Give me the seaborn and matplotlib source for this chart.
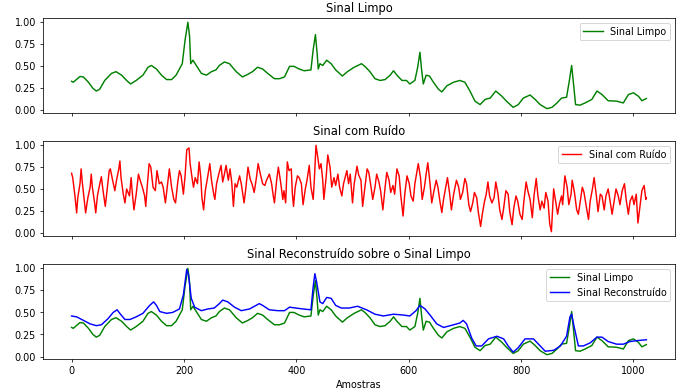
import matplotlib
matplotlib.use("Agg")
import matplotlib.pyplot as plt
from matplotlib.ticker import MultipleLocator, FormatStrFormatter
import seaborn as sns
import pandas as pd

# Clean signal (sample index, value)
clean_x = [0, 3, 15, 21, 30, 38, 44, 50, 59, 71, 79, 89, 98, 105, 115, 127, 136, 142, 151, 160,
           169, 178, 186, 197, 202, 207, 210, 212, 216, 222, 231, 240, 249, 257, 263, 272, 281, 293,
           304, 314, 322, 331, 340, 349, 361, 370, 379, 388, 396, 405, 414, 426, 430, 434, 437, 439,
           442, 447, 454, 462, 470, 482, 491, 503, 516, 522, 531, 540, 549, 558, 567, 573, 579, 588,
           596, 602, 611, 616, 620, 623, 626, 631, 637, 644, 653, 659, 668, 680, 691, 700, 709, 718,
           727, 736, 745, 755, 766, 774, 786, 795, 804, 816, 825, 834, 846, 855, 864, 872, 881, 886,
           890, 894, 897, 905, 914, 926, 935, 944, 955, 970, 982, 991, 1000, 1009, 1015, 1023]
clean_y = [0.33, 0.32, 0.385, 0.38, 0.32, 0.25, 0.22, 0.24, 0.34, 0.42, 0.44, 0.40, 0.34, 0.30, 0.34,
           0.40, 0.49, 0.51, 0.47, 0.40, 0.35, 0.35, 0.40, 0.53, 0.80, 1.00, 0.84, 0.53, 0.57, 0.51,
           0.42, 0.40, 0.44, 0.46, 0.51, 0.55, 0.53, 0.44, 0.38, 0.41, 0.44, 0.49, 0.47, 0.42, 0.36,
           0.36, 0.38, 0.50, 0.50, 0.47, 0.45, 0.46, 0.69, 0.86, 0.65, 0.47, 0.53, 0.51, 0.57, 0.53,
           0.46, 0.39, 0.44, 0.49, 0.53, 0.50, 0.44, 0.36, 0.34, 0.35, 0.40, 0.45, 0.40, 0.34, 0.34,
           0.30, 0.34, 0.49, 0.66, 0.46, 0.30, 0.40, 0.39, 0.32, 0.24, 0.21, 0.28, 0.32, 0.34, 0.32,
           0.22, 0.105, 0.066, 0.125, 0.14, 0.22, 0.16, 0.105, 0.035, 0.066, 0.14, 0.175, 0.125, 0.066,
           0.02, 0.035, 0.085, 0.14, 0.15, 0.34, 0.51, 0.26, 0.066, 0.06, 0.085, 0.125, 0.22, 0.18,
           0.11, 0.105, 0.085, 0.18, 0.20, 0.16, 0.11, 0.135]

# Noisy signal (sample index, value)
noisy_x = [0, 2, 6, 9, 11, 15, 17, 19, 22, 25, 29, 33, 35, 37, 41, 43, 46, 49, 53, 56, 60, 63, 67, 69,
           73, 77, 80, 84, 86, 88, 92, 95, 98, 103, 106, 108, 111, 115, 119, 122, 126, 130, 132, 135,
           138, 141, 145, 149, 152, 156, 160, 163, 167, 171, 174, 178, 182, 185, 189, 192, 195, 199,
           202, 205, 209, 211, 215, 217, 220, 224, 227, 230, 232, 235, 238, 242, 246, 249, 253, 255,
           258, 262, 266, 269, 272, 275, 279, 282, 285, 288, 291, 294, 299, 302, 307, 310, 314, 318,
           321, 325, 329, 332, 336, 340, 344, 347, 352, 356, 359, 361, 365, 368, 372, 376, 378, 381,
           384, 387, 391, 393, 395, 398, 402, 405, 409, 412, 416, 419, 423, 426, 430, 432, 435, 438,
           441, 444, 447, 449, 453, 456, 460, 463, 467, 470, 474, 477, 481, 484, 490, 493, 496, 500,
           503, 508, 511, 515, 518, 522, 526, 529, 533, 536, 540, 543, 547, 550, 554, 558, 561, 565,
           568, 572, 575, 579, 583, 586, 590, 593, 597, 601, 604, 608, 611, 615, 617, 621, 624, 628,
           631, 634, 638, 641, 645, 649, 652, 656, 659, 662, 666, 669, 673, 676, 680, 685, 689, 692,
           696, 700, 703, 707, 710, 714, 717, 721, 724, 728, 731, 735, 738, 741, 744, 748, 752, 755,
           759, 762, 766, 769, 773, 777, 780, 784, 787, 791, 794, 798, 802, 805, 809, 812, 816, 820,
           823, 827, 830, 834, 837, 841, 844, 848, 851, 854, 858, 862, 865, 868, 872, 874, 878, 882,
           885, 889, 891, 895, 899, 902, 905, 909, 912, 916, 920, 923, 927, 930, 934, 937, 941, 944,
           948, 951, 955, 958, 962, 966, 969, 973, 976, 980, 984, 987, 991, 994, 998, 1001, 1005,
           1008, 1012, 1015, 1019, 1022, 1023]
noisy_y = [0.68, 0.63, 0.42, 0.225, 0.40, 0.56, 0.73, 0.58, 0.40, 0.225, 0.40, 0.52, 0.67, 0.52, 0.34,
           0.225, 0.42, 0.52, 0.64, 0.48, 0.30, 0.48, 0.71, 0.73, 0.60, 0.48, 0.60, 0.73, 0.82, 0.63,
           0.44, 0.34, 0.50, 0.42, 0.63, 0.46, 0.26, 0.44, 0.67, 0.60, 0.52, 0.42, 0.30, 0.56, 0.79,
           0.75, 0.52, 0.48, 0.71, 0.56, 0.58, 0.52, 0.34, 0.56, 0.73, 0.52, 0.38, 0.34, 0.58, 0.71,
           0.65, 0.44, 0.65, 0.95, 0.97, 0.79, 0.60, 0.52, 0.63, 0.56, 0.81, 0.63, 0.40, 0.26, 0.48,
           0.63, 0.79, 0.60, 0.44, 0.38, 0.56, 0.67, 0.77, 0.58, 0.67, 0.77, 0.60, 0.73, 0.58, 0.30,
           0.56, 0.52, 0.65, 0.56, 0.34, 0.50, 0.75, 0.61, 0.56, 0.46, 0.63, 0.79, 0.67, 0.56, 0.54,
           0.60, 0.67, 0.56, 0.42, 0.34, 0.60, 0.75, 0.58, 0.38, 0.48, 0.34, 0.81, 0.71, 0.73, 0.44,
           0.30, 0.52, 0.65, 0.63, 0.56, 0.32, 0.50, 0.60, 0.77, 0.52, 0.38, 0.60, 1.00, 0.87, 0.73,
           0.79, 0.60, 0.38, 0.63, 0.89, 0.75, 0.52, 0.63, 0.54, 0.67, 0.52, 0.42, 0.56, 0.71, 0.56,
           0.67, 0.34, 0.56, 0.76, 0.66, 0.60, 0.30, 0.52, 0.73, 0.69, 0.52, 0.38, 0.52, 0.67, 0.58,
           0.48, 0.26, 0.52, 0.69, 0.60, 0.46, 0.54, 0.44, 0.73, 0.65, 0.42, 0.19, 0.44, 0.65, 0.56,
           0.42, 0.36, 0.56, 0.71, 0.79, 0.63, 0.38, 0.52, 0.67, 0.80, 0.56, 0.34, 0.48, 0.60, 0.52,
           0.34, 0.23, 0.38, 0.52, 0.63, 0.44, 0.26, 0.44, 0.60, 0.52, 0.38, 0.46, 0.62, 0.56, 0.32,
           0.24, 0.34, 0.46, 0.40, 0.23, 0.07, 0.21, 0.36, 0.44, 0.58, 0.42, 0.34, 0.40, 0.58, 0.44,
           0.26, 0.15, 0.28, 0.48, 0.44, 0.23, 0.09, 0.28, 0.42, 0.36, 0.21, 0.15, 0.36, 0.58, 0.48,
           0.38, 0.17, 0.42, 0.62, 0.42, 0.26, 0.36, 0.28, 0.46, 0.36, 0.10, 0.01, 0.50, 0.34, 0.21,
           0.32, 0.42, 0.32, 0.65, 0.52, 0.32, 0.44, 0.60, 0.46, 0.26, 0.21, 0.34, 0.52, 0.46, 0.30,
           0.15, 0.36, 0.50, 0.63, 0.42, 0.24, 0.44, 0.42, 0.26, 0.42, 0.50, 0.38, 0.21, 0.38, 0.50,
           0.42, 0.32, 0.48, 0.56, 0.38, 0.21, 0.36, 0.42, 0.32, 0.44, 0.11, 0.32, 0.48, 0.54, 0.38,
           0.40]

# Reconstructed signal (sample index, value)
recon_x = [0, 9, 21, 33, 44, 53, 65, 74, 81, 87, 95, 104, 115, 127, 139, 146, 151, 157, 169, 180, 192,
           199, 205, 208, 213, 219, 231, 243, 254, 263, 269, 278, 290, 302, 317, 334, 340, 352, 367,
           379, 388, 399, 411, 426, 430, 433, 436, 442, 447, 454, 462, 470, 480, 494, 509, 525, 540,
           555, 573, 591, 602, 613, 620, 629, 638, 650, 662, 680, 691, 697, 703, 712, 720, 730, 742,
           757, 769, 777, 786, 795, 807, 822, 831, 843, 858, 870, 881, 887, 890, 894, 902, 911, 923,
           935, 944, 955, 970, 982, 994, 1006, 1023]
recon_y = [0.46, 0.45, 0.41, 0.37, 0.35, 0.36, 0.43, 0.50, 0.53, 0.48, 0.42, 0.42, 0.45, 0.49, 0.58,
           0.62, 0.58, 0.51, 0.49, 0.50, 0.54, 0.70, 0.99, 0.93, 0.66, 0.56, 0.52, 0.54, 0.55, 0.60,
           0.64, 0.62, 0.56, 0.52, 0.54, 0.60, 0.58, 0.53, 0.52, 0.52, 0.56, 0.55, 0.54, 0.53, 0.79,
           0.94, 0.85, 0.62, 0.60, 0.67, 0.66, 0.58, 0.55, 0.55, 0.57, 0.53, 0.48, 0.46, 0.48, 0.47,
           0.46, 0.52, 0.58, 0.54, 0.47, 0.37, 0.33, 0.36, 0.38, 0.41, 0.37, 0.21, 0.12, 0.12, 0.20,
           0.23, 0.20, 0.12, 0.05, 0.10, 0.20, 0.20, 0.14, 0.06, 0.07, 0.12, 0.23, 0.45, 0.48, 0.35,
           0.12, 0.12, 0.155, 0.22, 0.22, 0.17, 0.14, 0.14, 0.17, 0.18, 0.19]

titles = ["Sinal Limpo", "Sinal com Ruído", "Sinal Reconstruído sobre o Sinal Limpo"]

df_clean = pd.DataFrame({"x": clean_x, "y": clean_y})
df_noisy = pd.DataFrame({"x": noisy_x, "y": noisy_y})
df_recon = pd.DataFrame({"x": recon_x, "y": recon_y})

DPI = 69.1
fig, axes = plt.subplots(3, 1, figsize=(10, 5.674), dpi=DPI, sharex=True)

sns.lineplot(data=df_clean, x="x", y="y", color="green", label="Sinal Limpo", ax=axes[0])
axes[0].set_title(titles[0])

sns.lineplot(data=df_noisy, x="x", y="y", color="red", label="Sinal com Ruído", ax=axes[1])
axes[1].set_title(titles[1])

sns.lineplot(data=df_clean, x="x", y="y", color="green", label="Sinal Limpo", ax=axes[2])
sns.lineplot(data=df_recon, x="x", y="y", color="blue", label="Sinal Reconstruído", ax=axes[2])
axes[2].set_title(titles[2])

for ax in axes:
    ax.set_ylabel("")
    ax.set_xlabel("")
    ax.yaxis.set_major_locator(MultipleLocator(0.25))
    ax.yaxis.set_major_formatter(FormatStrFormatter("%.2f"))
    ax.legend(loc="upper right")
axes[2].set_xlabel("Amostras")

fig.subplots_adjust(left=0.062, right=0.977, top=0.954, bottom=0.084, hspace=0.295)
fig.savefig("out.png", dpi=DPI)
